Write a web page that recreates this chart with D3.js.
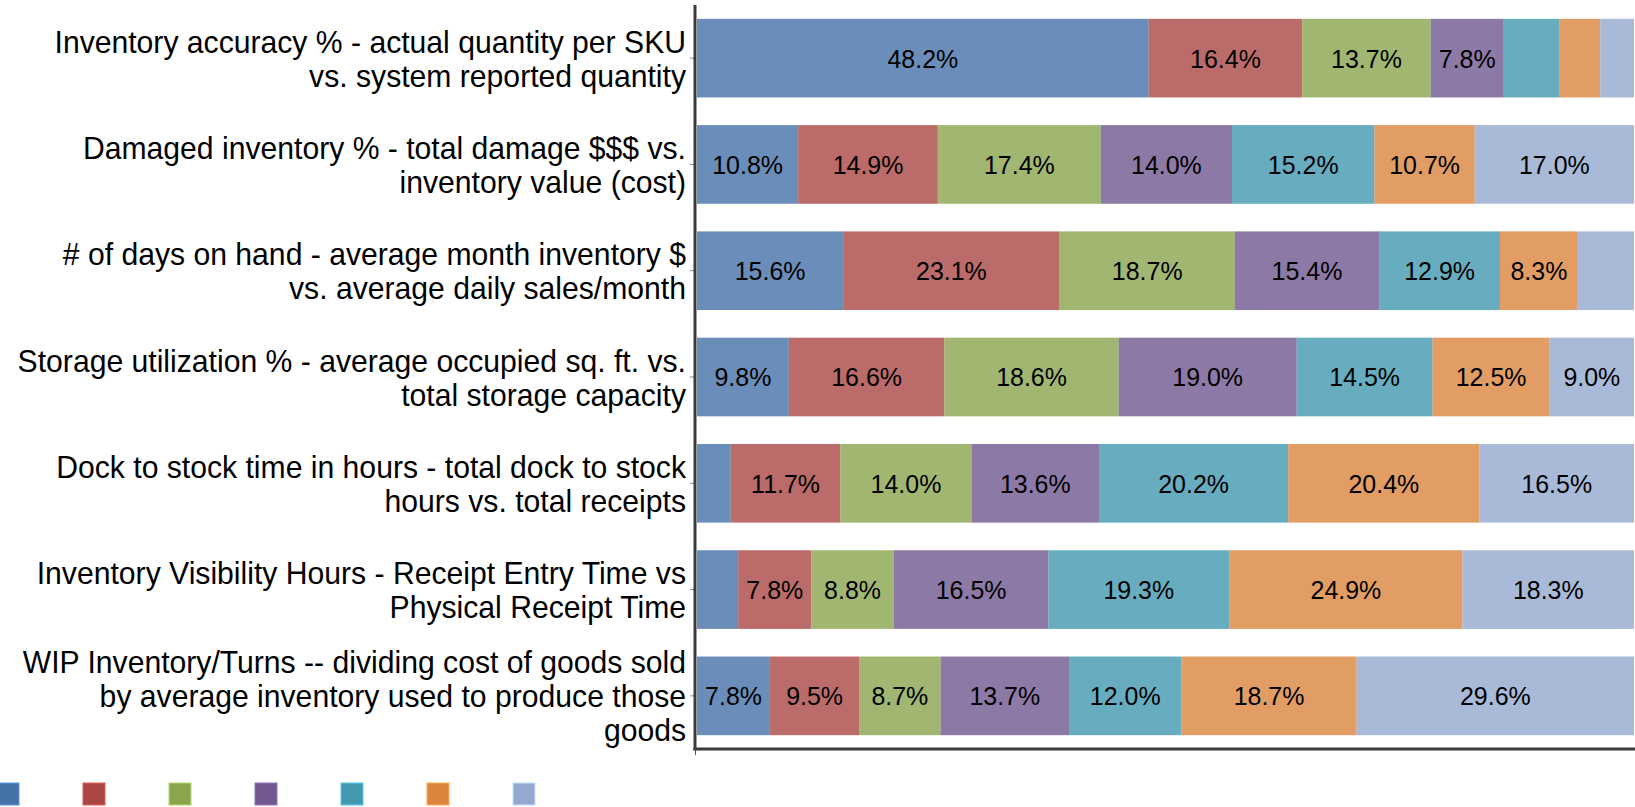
<!DOCTYPE html>
<html>
<head>
<meta charset="utf-8">
<script src="https://cdn.jsdelivr.net/npm/d3@7/dist/d3.min.js"></script>
<style>
  html, body { margin: 0; padding: 0; background: #fff; overflow: hidden; }
  svg { display: block; }
</style>
</head>
<body>
<svg id="chart" width="1635" height="807"></svg>
<script>
// ---- data ----
const categories = [
  "Inventory accuracy % - actual quantity per SKU\nvs. system reported quantity",
  "Damaged inventory % - total damage $$$ vs.\ninventory value (cost)",
  "# of days on hand - average month inventory $\nvs. average daily sales/month",
  "Storage utilization % - average occupied sq. ft. vs.\ntotal storage capacity",
  "Dock to stock time in hours - total dock to stock\nhours vs. total receipts",
  "Inventory Visibility Hours - Receipt Entry Time vs\nPhysical Receipt Time",
  "WIP Inventory/Turns -- dividing cost of goods sold\nby average inventory used to produce those\ngoods"
];
const series1 = [48.2, 10.8, 15.6, 9.8, 3.6, 4.4, 7.8];
const series2 = [16.4, 14.9, 23.1, 16.6, 11.7, 7.8, 9.5];
const series3 = [13.7, 17.4, 18.7, 18.6, 14.0, 8.8, 8.7];
const series4 = [7.8, 14.0, 15.4, 19.0, 13.6, 16.5, 13.7];
const series5 = [5.9, 15.2, 12.9, 14.5, 20.2, 19.3, 12.0];
const series6 = [4.4, 10.7, 8.3, 12.5, 20.4, 24.9, 18.7];
const series7 = [3.6, 17.0, 6.0, 9.0, 16.5, 18.3, 29.6];
const seriesList = [series1, series2, series3, series4, series5, series6, series7];
const colors = ["#4572A7", "#AA4643", "#89A54E", "#71588F", "#4198AF", "#DB843D", "#93A9CF"];

// ---- layout ----
const svg = d3.select("#chart");
const x = d3.scaleLinear().domain([0, 100]).range([697, 1634]);
const y = d3.scaleBand().domain(d3.range(categories.length)).range([5, 749])
  .paddingInner(0.26).paddingOuter(0.13);

// stacked data
const rows = categories.map((c, i) => {
  let acc = 0;
  return seriesList.map((s, k) => {
    const seg = { row: i, k, v: s[i], x0: acc, x1: acc + s[i] };
    acc += s[i];
    return seg;
  });
});

const gBars = svg.append("g");
rows.forEach(segs => {
  segs.forEach(d => {
    gBars.append("rect")
      .attr("x", x(d.x0))
      .attr("y", y(d.row))
      .attr("width", Math.max(0, x(d.x1) - x(d.x0)))
      .attr("height", y.bandwidth())
      .attr("fill", colors[d.k])
      .attr("fill-opacity", 0.8);
  });
});

const FONT = "'Liberation Sans', Arial, sans-serif";

// data labels
const labSX = 0.96;
const gLab = svg.append("g")
  .attr("font-family", FONT)
  .attr("font-size", 26)
  .attr("fill", "#000");
rows.forEach(segs => {
  segs.forEach(d => {
    const w = x(d.x1) - x(d.x0);
    const cx = (x(d.x0) + x(d.x1)) / 2;
    const cy = y(d.row) + y.bandwidth() / 2;
    const t = gLab.append("text")
      .attr("transform", `translate(${cx},${cy}) scale(${labSX},1)`)
      .attr("dy", "0.36em")
      .attr("text-anchor", "middle")
      .text(d.v.toFixed(1) + "%");
    const tw = t.node().getComputedTextLength() * labSX;
    if (tw + 10 > w) t.remove();
  });
});

// axes
const yAxis = d3.axisLeft(y).tickSize(5).tickFormat("");
const gy = svg.append("g").attr("transform", "translate(695,0)").call(yAxis);
gy.select(".domain").remove();
gy.selectAll(".tick line").attr("stroke", "#888").attr("stroke-width", 1);

svg.append("line")
  .attr("x1", 695).attr("x2", 695).attr("y1", 5).attr("y2", 750.5)
  .attr("stroke", "#3a3a3a").attr("stroke-width", 3);
svg.append("line")
  .attr("x1", 693.5).attr("x2", 1635).attr("y1", 749).attr("y2", 749)
  .attr("stroke", "#3a3a3a").attr("stroke-width", 3);
svg.append("line")
  .attr("x1", 695.5).attr("x2", 695.5).attr("y1", 749).attr("y2", 755)
  .attr("stroke", "#555").attr("stroke-width", 1);

// category labels
const catSX = 0.942;
const gCat = svg.append("g")
  .attr("font-family", FONT)
  .attr("font-size", 32)
  .attr("fill", "#000");
const lineH = 34;
categories.forEach((c, i) => {
  const lines = c.split("\n");
  const cy = y(i) + y.bandwidth() / 2;
  const top = cy - (lines.length - 1) * lineH / 2;
  const t = gCat.append("text")
    .attr("text-anchor", "end")
    .attr("transform", `translate(686,0) scale(${catSX},1)`);
  lines.forEach((ln, j) => {
    t.append("tspan")
      .attr("x", 0)
      .attr("y", top + j * lineH)
      .attr("dy", "0.36em")
      .text(ln);
  });
});

// legend (symbols only)
const gLeg = svg.append("g");
colors.forEach((c, k) => {
  gLeg.append("rect")
    .attr("x", -3 + k * 86)
    .attr("y", 783)
    .attr("width", 22)
    .attr("height", 22)
    .attr("fill", c)
    .attr("stroke", d3.color(c).brighter(0.8))
    .attr("stroke-width", 1);
});
</script>
</body>
</html>
